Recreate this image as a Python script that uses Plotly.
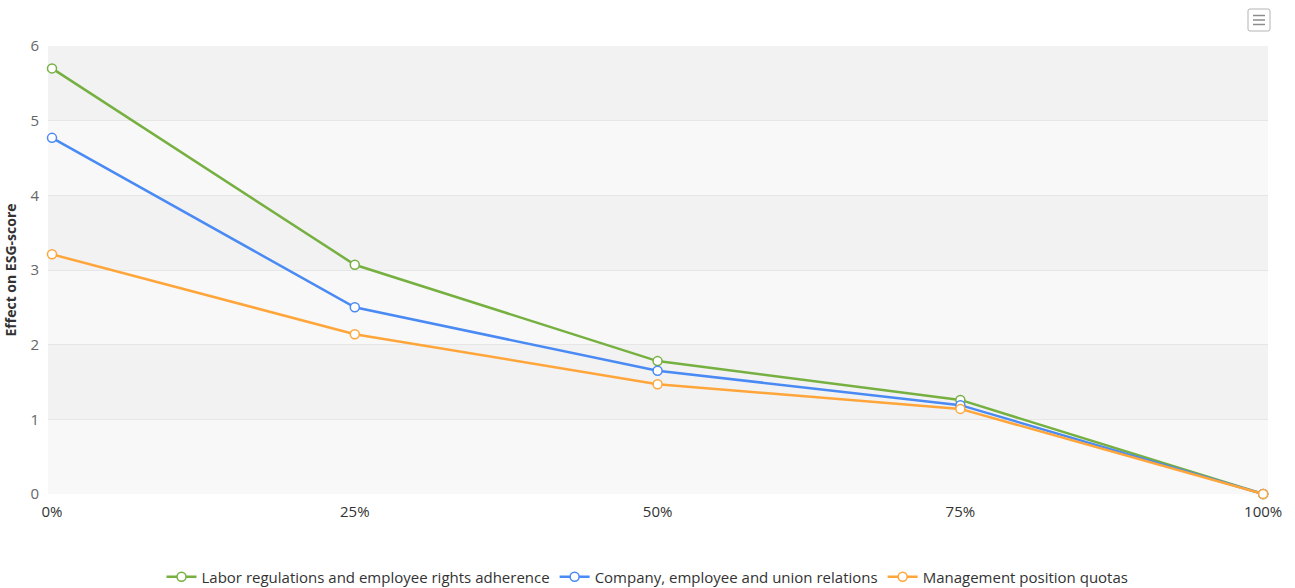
"""ESG-score effect line chart"""
import plotly.graph_objects as go

# data
x_values = [0, 25, 50, 75, 100]
x_labels = ["0%", "25%", "50%", "75%", "100%"]
labor_rights = [5.70, 3.07, 1.78, 1.26, 0.0]
union_relations = [4.77, 2.50, 1.65, 1.19, 0.0]
management_quotas = [3.21, 2.14, 1.47, 1.14, 0.0]

series = [
    ("Labor regulations and employee rights adherence", labor_rights, "#76b041"),
    ("Company, employee and union relations", union_relations, "#4a8af4"),
    ("Management position quotas", management_quotas, "#ffa53a"),
]

fig = go.Figure()

for name, values, color in series:
    fig.add_trace(go.Scatter(
        x=x_values,
        y=values,
        mode="lines+markers",
        name=name,
        line=dict(color=color, width=2.5),
        marker=dict(size=9, color="white", line=dict(color=color, width=1.5)),
        cliponaxis=False,
    ))

# alternating background bands
shapes = []
for i in range(6):
    shapes.append(dict(
        type="rect", xref="paper", yref="y",
        x0=0, x1=1, y0=i, y1=i + 1,
        fillcolor="#f2f2f2" if i % 2 else "#f8f8f8",
        line=dict(width=0), layer="below",
    ))

# menu button (top right)
W, H, L, T = 1220, 448, 48, 46
def px(xp):
    return (xp - L) / W
def py(yp):
    return (T + H - yp) / H

shapes.append(dict(
    type="path", xref="paper", yref="paper",
    path=(f"M {px(1250)},{py(9)} L {px(1268)},{py(9)} "
          f"Q {px(1270)},{py(9)} {px(1270)},{py(11)} L {px(1270)},{py(29)} "
          f"Q {px(1270)},{py(31)} {px(1268)},{py(31)} L {px(1250)},{py(31)} "
          f"Q {px(1248)},{py(31)} {px(1248)},{py(29)} L {px(1248)},{py(11)} "
          f"Q {px(1248)},{py(9)} {px(1250)},{py(9)} Z"),
    line=dict(color="#b3b3b3", width=1), fillcolor="white",
))
for yy in (15.5, 20, 24.5):
    shapes.append(dict(
        type="line", xref="paper", yref="paper",
        x0=px(1253), x1=px(1265), y0=py(yy), y1=py(yy),
        line=dict(color="#8c8c8c", width=1.5),
    ))

fig.update_layout(
    width=1295,
    height=588,
    margin=dict(l=48, r=27, t=46, b=94, autoexpand=False),
    plot_bgcolor="white",
    paper_bgcolor="white",
    font=dict(family="Open Sans, Noto Sans, sans-serif", size=14, color="#333333"),
    shapes=shapes,
    showlegend=True,
    legend=dict(
        orientation="h",
        x=0.5, xanchor="center",
        xref="container",
        y=py(577), yanchor="middle",
        font=dict(size=15, color="#333333"),
        itemwidth=30,
        tracegroupgap=0,
    ),
    xaxis=dict(
        range=[-0.33, 100.4],
        tickvals=x_values,
        ticktext=x_labels,
        showgrid=False,
        zeroline=False,
        showline=False,
        ticks="",
        ticklabelstandoff=7,
        tickfont=dict(size=15, color="#333333"),
        fixedrange=True,
    ),
    yaxis=dict(
        range=[0, 6],
        dtick=1,
        showgrid=True,
        gridcolor="#e6e6e6",
        gridwidth=1,
        zeroline=False,
        showline=False,
        ticks="",
        ticklabelstandoff=8,
        tickfont=dict(size=15, color="#666666"),
        title=dict(
            text="<b>Effect on ESG-score</b>",
            font=dict(size=14, color="#333333"),
            standoff=10,
        ),
        fixedrange=True,
    ),
)

fig.write_html(
    "out.html",
    config={"displayModeBar": False},
    post_script="document.body.style.margin='0';",
)
